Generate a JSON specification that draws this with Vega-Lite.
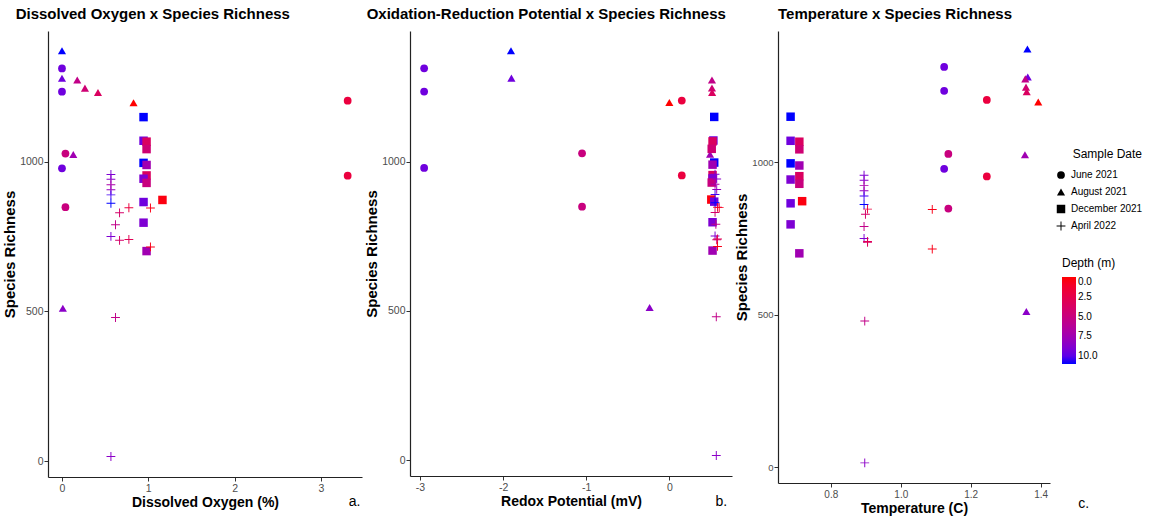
{
  "$schema": "https://vega.github.io/schema/vega-lite/v6.json",
  "padding": {"left": 2, "top": 7, "right": 2, "bottom": 2},
  "background": "white",
  "data": {"values": [
    {"date":"June 2021","depth":9.5,"rich":1313,"do":0,"redox":-2.95,"temp":1.124},
    {"date":"June 2021","depth":9.5,"rich":1235,"do":0,"redox":-2.95,"temp":1.124},
    {"date":"June 2021","depth":9.5,"rich":979,"do":0,"redox":-2.95,"temp":1.124},
    {"date":"June 2021","depth":5,"rich":1028,"do":0.04,"redox":-1.05,"temp":1.136},
    {"date":"June 2021","depth":5,"rich":849,"do":0.04,"redox":-1.05,"temp":1.136},
    {"date":"June 2021","depth":2,"rich":1205,"do":3.31,"redox":0.15,"temp":1.246},
    {"date":"June 2021","depth":2,"rich":954,"do":3.31,"redox":0.15,"temp":1.246},
    {"date":"August 2021","depth":11,"rich":1372,"do":0,"redox":-1.905,"temp":1.362},
    {"date":"August 2021","depth":9.5,"rich":1280,"do":0,"redox":-1.9,"temp":1.363},
    {"date":"August 2021","depth":5.5,"rich":1274,"do":0.177,"redox":0.513,"temp":1.356},
    {"date":"August 2021","depth":4.5,"rich":1247,"do":0.266,"redox":0.513,"temp":1.358},
    {"date":"August 2021","depth":3.5,"rich":1232,"do":0.417,"redox":0.515,"temp":1.36},
    {"date":"August 2021","depth":0,"rich":1198,"do":0.829,"redox":0.0,"temp":1.393},
    {"date":"August 2021","depth":7.5,"rich":1025,"do":0.131,"redox":0.49,"temp":1.355},
    {"date":"August 2021","depth":8.5,"rich":511,"do":0.01,"redox":-0.237,"temp":1.359},
    {"date":"December 2021","depth":11,"rich":1150,"do":0.945,"redox":0.54,"temp":0.685},
    {"date":"December 2021","depth":9.5,"rich":1071,"do":0.945,"redox":0.53,"temp":0.685},
    {"date":"December 2021","depth":3.5,"rich":1068,"do":0.98,"redox":0.52,"temp":0.71},
    {"date":"December 2021","depth":4.5,"rich":1043,"do":0.98,"redox":0.51,"temp":0.71},
    {"date":"December 2021","depth":11,"rich":997,"do":0.945,"redox":0.54,"temp":0.685},
    {"date":"December 2021","depth":7.5,"rich":990,"do":0.98,"redox":0.52,"temp":0.71},
    {"date":"December 2021","depth":3.5,"rich":955,"do":0.98,"redox":0.52,"temp":0.71},
    {"date":"December 2021","depth":9,"rich":944,"do":0.945,"redox":0.52,"temp":0.685},
    {"date":"December 2021","depth":5,"rich":930,"do":0.98,"redox":0.51,"temp":0.71},
    {"date":"December 2021","depth":0.3,"rich":873,"do":1.164,"redox":0.505,"temp":0.718},
    {"date":"December 2021","depth":9.5,"rich":866,"do":0.945,"redox":0.54,"temp":0.685},
    {"date":"December 2021","depth":9,"rich":797,"do":0.945,"redox":0.52,"temp":0.685},
    {"date":"December 2021","depth":7.5,"rich":702,"do":0.98,"redox":0.52,"temp":0.71},
    {"date":"April 2022","depth":9,"rich":958,"do":0.567,"redox":0.55,"temp":0.895},
    {"date":"April 2022","depth":8.5,"rich":942,"do":0.567,"redox":0.57,"temp":0.895},
    {"date":"April 2022","depth":7,"rich":924,"do":0.567,"redox":0.55,"temp":0.895},
    {"date":"April 2022","depth":8,"rich":907,"do":0.567,"redox":0.57,"temp":0.895},
    {"date":"April 2022","depth":10.5,"rich":890,"do":0.567,"redox":0.55,"temp":0.895},
    {"date":"April 2022","depth":11,"rich":862,"do":0.567,"redox":0.55,"temp":0.895},
    {"date":"April 2022","depth":2,"rich":847,"do":0.775,"redox":0.58,"temp":0.905},
    {"date":"April 2022","depth":4,"rich":830,"do":0.667,"redox":0.55,"temp":0.899},
    {"date":"April 2022","depth":0.5,"rich":846,"do":1.025,"redox":0.6,"temp":1.09},
    {"date":"April 2022","depth":5.5,"rich":790,"do":0.62,"redox":0.56,"temp":0.895},
    {"date":"April 2022","depth":9,"rich":751,"do":0.567,"redox":0.55,"temp":0.895},
    {"date":"April 2022","depth":4,"rich":738,"do":0.667,"redox":0.57,"temp":0.905},
    {"date":"April 2022","depth":3,"rich":741,"do":0.775,"redox":0.58,"temp":0.905},
    {"date":"April 2022","depth":0.5,"rich":716,"do":1.025,"redox":0.58,"temp":1.09},
    {"date":"April 2022","depth":5.5,"rich":480,"do":0.62,"redox":0.565,"temp":0.897},
    {"date":"April 2022","depth":8.5,"rich":15,"do":0.567,"redox":0.565,"temp":0.897}
  ]},
  "spacing": 2,
  "hconcat": [
    {
      "width": 314, "height": 446,
      "title": {"text": "Dissolved Oxygen x Species Richness", "anchor": "start", "frame": "bounds", "dx": 13},
      "layer": [
        {
          "mark": {"type": "point", "filled": true, "opacity": 1},
          "encoding": {
            "x": {"field": "do", "type": "quantitative", "title": "Dissolved Oxygen (%)", "scale": {"domain": [-0.162, 3.476], "nice": false, "zero": false}, "axis": {"values": [0, 1, 2, 3], "format": "d"}},
            "y": {"field": "rich", "type": "quantitative", "title": "Species Richness", "scale": {"domain": [-53.5, 1438], "nice": false, "zero": false}, "axis": {"values": [0, 500, 1000], "format": "d"}},
            "shape": {"field": "date", "type": "nominal", "scale": {"domain": ["June 2021", "August 2021", "December 2021", "April 2022"], "range": ["circle", "triangle-up", "square", "M-1,-0.11H-0.11V-1H0.11V-0.11H1V0.11H0.11V1H-0.11V0.11H-1Z"]}, "legend": {"title": "Sample Date", "orient": "none", "legendX": 1008, "legendY": 118, "titleAnchor": "end", "titlePadding": 9, "rowPadding": 7, "symbolFillColor": "black", "symbolStrokeColor": "black", "symbolStrokeWidth": 0}},
            "size": {"field": "date", "type": "nominal", "scale": {"domain": ["June 2021", "August 2021", "December 2021", "April 2022"], "range": [60, 78, 60, 144]}, "legend": {"title": "Sample Date", "orient": "none", "legendX": 1008, "legendY": 118, "titleAnchor": "end", "titlePadding": 9, "rowPadding": 7, "symbolFillColor": "black", "symbolStrokeColor": "black", "symbolStrokeWidth": 0}},
            "color": {"field": "depth", "type": "quantitative", "title": "Depth (m)", "scale": {"domain": [11, 0], "range": ["#0000ff", "#ff0000"], "interpolate": "lab"}, "legend": {"type": "gradient", "orient": "none", "legendX": 1014, "legendY": 227, "values": [0, 2.5, 5, 7.5, 10], "format": ".1f", "gradientLength": 87, "gradientThickness": 14}}
          }
        },
        {
          "data": {"values": [{"tag": "a."}]},
          "mark": {"type": "text", "font": "Liberation Sans", "fontSize": 14, "color": "black", "baseline": "middle"},
          "encoding": {
            "x": {"datum": 3.39, "type": "quantitative"},
            "y": {"datum": -136, "type": "quantitative"},
            "text": {"field": "tag"}
          }
        }
      ]
    },
    {
      "width": 322, "height": 445,
      "title": {"text": "Oxidation-Reduction Potential x Species Richness", "anchor": "start", "frame": "bounds", "dx": 2},
      "layer": [
        {
          "mark": {"type": "point", "filled": true, "opacity": 1},
          "encoding": {
            "x": {"field": "redox", "type": "quantitative", "title": "Redox Potential (mV)", "scale": {"domain": [-3.12, 0.754], "nice": false, "zero": false}, "axis": {"values": [-3, -2, -1, 0], "format": "d", "labelExpr": "replace(datum.label, '\u2212', '-')"}},
            "y": {"field": "rich", "type": "quantitative", "title": "Species Richness", "scale": {"domain": [-53.6, 1438], "nice": false, "zero": false}, "axis": {"values": [0, 500, 1000], "format": "d"}},
            "shape": {"field": "date", "type": "nominal", "scale": {"domain": ["June 2021", "August 2021", "December 2021", "April 2022"], "range": ["circle", "triangle-up", "square", "M-1,-0.11H-0.11V-1H0.11V-0.11H1V0.11H0.11V1H-0.11V0.11H-1Z"]}, "legend": {"title": "Sample Date", "orient": "none", "legendX": 1008, "legendY": 118, "titleAnchor": "end", "titlePadding": 9, "rowPadding": 7, "symbolFillColor": "black", "symbolStrokeColor": "black", "symbolStrokeWidth": 0}},
            "size": {"field": "date", "type": "nominal", "scale": {"domain": ["June 2021", "August 2021", "December 2021", "April 2022"], "range": [60, 78, 60, 144]}, "legend": {"title": "Sample Date", "orient": "none", "legendX": 1008, "legendY": 118, "titleAnchor": "end", "titlePadding": 9, "rowPadding": 7, "symbolFillColor": "black", "symbolStrokeColor": "black", "symbolStrokeWidth": 0}},
            "color": {"field": "depth", "type": "quantitative", "title": "Depth (m)", "scale": {"domain": [11, 0], "range": ["#0000ff", "#ff0000"], "interpolate": "lab"}, "legend": {"type": "gradient", "orient": "none", "legendX": 1014, "legendY": 227, "values": [0, 2.5, 5, 7.5, 10], "format": ".1f", "gradientLength": 87, "gradientThickness": 14}}
          }
        },
        {
          "data": {"values": [{"tag": "b."}]},
          "mark": {"type": "text", "font": "Liberation Sans", "fontSize": 14, "color": "black", "baseline": "middle"},
          "encoding": {
            "x": {"datum": 0.625, "type": "quantitative"},
            "y": {"datum": -141, "type": "quantitative"},
            "text": {"field": "tag"}
          }
        }
      ]
    },
    {
      "width": 272, "height": 452,
      "title": {"text": "Temperature x Species Richness", "anchor": "start", "frame": "group"},
      "layer": [
        {
          "mark": {"type": "point", "filled": true, "opacity": 1},
          "encoding": {
            "x": {"field": "temp", "type": "quantitative", "title": "Temperature (C)", "scale": {"domain": [0.649, 1.4266], "nice": false, "zero": false}, "axis": {"values": [0.8, 1.0, 1.2, 1.4], "format": ".1f", "labelFontSize": 10}},
            "y": {"field": "rich", "type": "quantitative", "title": "Species Richness", "scale": {"domain": [-51, 1431], "nice": false, "zero": false}, "axis": {"values": [0, 500, 1000], "format": "d", "labelFontSize": 9.5}},
            "shape": {"field": "date", "type": "nominal", "scale": {"domain": ["June 2021", "August 2021", "December 2021", "April 2022"], "range": ["circle", "triangle-up", "square", "M-1,-0.11H-0.11V-1H0.11V-0.11H1V0.11H0.11V1H-0.11V0.11H-1Z"]}, "legend": {"title": "Sample Date", "orient": "none", "legendX": 1008, "legendY": 118, "titleAnchor": "end", "titlePadding": 9, "rowPadding": 7, "symbolFillColor": "black", "symbolStrokeColor": "black", "symbolStrokeWidth": 0}},
            "size": {"field": "date", "type": "nominal", "scale": {"domain": ["June 2021", "August 2021", "December 2021", "April 2022"], "range": [60, 78, 60, 144]}, "legend": {"title": "Sample Date", "orient": "none", "legendX": 1008, "legendY": 118, "titleAnchor": "end", "titlePadding": 9, "rowPadding": 7, "symbolFillColor": "black", "symbolStrokeColor": "black", "symbolStrokeWidth": 0}},
            "color": {"field": "depth", "type": "quantitative", "title": "Depth (m)", "scale": {"domain": [11, 0], "range": ["#0000ff", "#ff0000"], "interpolate": "lab"}, "legend": {"type": "gradient", "orient": "none", "legendX": 1014, "legendY": 227, "values": [0, 2.5, 5, 7.5, 10], "format": ".1f", "gradientLength": 87, "gradientThickness": 14}}
          }
        },
        {
          "data": {"values": [{"tag": "c."}]},
          "mark": {"type": "text", "font": "Liberation Sans", "fontSize": 14, "color": "black", "baseline": "middle"},
          "encoding": {
            "x": {"datum": 1.523, "type": "quantitative"},
            "y": {"datum": -120, "type": "quantitative"},
            "text": {"field": "tag"}
          }
        }
      ]
    }
  ],
  "config": {
    "view": {"stroke": null},
    "axis": {
      "grid": false,
      "domainColor": "#222222",
      "domainWidth": 1.2,
      "tickColor": "#333333",
      "tickSize": 4,
      "labelFont": "Liberation Sans",
      "labelFontSize": 10.5,
      "labelColor": "#4d4d4d",
      "labelPadding": 1,
      "titleFont": "Liberation Sans",
      "titleFontWeight": "bold",
      "titleFontSize": 15,
      "titleColor": "black",
      "titlePadding": 2
    },
    "axisX": {"titleFontSize": 14, "titlePadding": 2, "labelPadding": 2},
    "title": {"font": "Liberation Sans", "fontWeight": "bold", "fontSize": 15, "color": "black", "offset": 9},
    "legend": {
      "titleFont": "Liberation Sans",
      "titleFontWeight": "normal",
      "titleFontSize": 12,
      "titleColor": "black",
      "labelFont": "Liberation Sans",
      "labelFontSize": 10,
      "labelColor": "black",
      "labelOffset": 5,
      "rowPadding": 3.5,
      "titlePadding": 7
    }
  }
}
